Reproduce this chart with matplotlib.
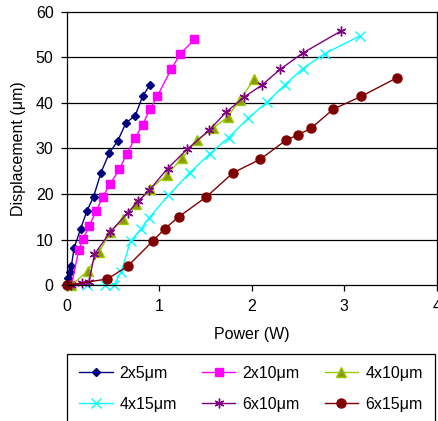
import matplotlib
matplotlib.use("Agg")
import matplotlib.pyplot as plt

plt.rcParams['font.family'] = ['Liberation Sans', 'DejaVu Sans']
plt.rcParams['font.size'] = 11.5

# power (W) vs displacement (um) for each actuator geometry
p_2x5 = [0, 0.01, 0.03, 0.05, 0.08, 0.15, 0.22, 0.29, 0.37, 0.46, 0.55, 0.64, 0.74, 0.82, 0.90]
d_2x5 = [0, 1.5, 2.9, 4.2, 8.2, 12.4, 16.4, 19.4, 24.7, 29.0, 31.6, 35.6, 37.2, 41.4, 44.0]

p_2x10 = [0.05, 0.13, 0.18, 0.24, 0.32, 0.39, 0.47, 0.57, 0.65, 0.74, 0.82, 0.90, 0.98, 1.13, 1.23, 1.38]
d_2x10 = [0, 7.7, 10.2, 12.9, 16.4, 19.4, 22.3, 25.4, 28.9, 32.3, 35.2, 38.6, 41.5, 47.4, 50.8, 53.9]

p_4x10 = [0.05, 0.23, 0.35, 0.47, 0.61, 0.75, 0.90, 1.08, 1.25, 1.41, 1.58, 1.74, 1.87, 2.03]
d_4x10 = [0, 3.2, 7.3, 11.6, 14.6, 17.9, 21.1, 24.1, 28.0, 31.8, 34.4, 36.9, 40.6, 45.3]

p_4x15 = [0.22, 0.41, 0.51, 0.59, 0.69, 0.80, 0.89, 1.10, 1.33, 1.55, 1.75, 1.96, 2.16, 2.36, 2.55, 2.79, 3.17]
d_4x15 = [0, 0, 0, 3.0, 9.7, 12.3, 14.8, 19.7, 24.7, 28.9, 32.4, 36.6, 40.1, 44.0, 47.5, 50.8, 54.7]

p_6x10 = [0.05, 0.16, 0.24, 0.30, 0.47, 0.66, 0.77, 0.89, 1.09, 1.30, 1.54, 1.72, 1.92, 2.11, 2.31, 2.55, 2.96]
d_6x10 = [0, 0.4, 0.7, 6.8, 11.7, 15.9, 18.4, 20.8, 25.6, 29.8, 34.0, 37.9, 41.3, 43.9, 47.4, 50.9, 55.7]

p_6x15 = [0, 0.44, 0.66, 0.93, 1.06, 1.21, 1.51, 1.80, 2.09, 2.37, 2.50, 2.64, 2.88, 3.18, 3.57]
d_6x15 = [0, 1.4, 4.2, 9.7, 12.4, 15.0, 19.4, 24.7, 27.6, 31.8, 33.0, 34.4, 38.6, 41.4, 45.5]

fig = plt.figure(figsize=(4.39, 4.21), dpi=100)
ax = fig.add_axes([0.152, 0.3223, 0.8428, 0.65])

ax.plot(p_2x5, d_2x5, color='#000080', lw=1, marker='D', ms=4.5, label='2x5\u03bcm', clip_on=False)
ax.plot(p_2x10, d_2x10, color='#FF00FF', lw=1, marker='s', ms=6, label='2x10\u03bcm', clip_on=False)
ax.plot(p_4x10, d_4x10, color='#99CC00', lw=1, marker='^', ms=6.5, mfc='#8A9A00', mec='#99CC00',
        label='4x10\u03bcm', clip_on=False)
ax.plot(p_4x15, d_4x15, color='#00FFFF', lw=1, marker='x', ms=6.5, mew=1, label='4x15\u03bcm', clip_on=False)
ax.plot(p_6x10, d_6x10, color='#800080', lw=1, marker=(6, 2, 0), ms=7, mew=1, label='6x10\u03bcm', clip_on=False)
ax.plot(p_6x15, d_6x15, color='#800000', lw=1, marker='o', ms=6.5, label='6x15\u03bcm', clip_on=False)

ax.set_xlim(0, 4)
ax.set_ylim(0, 60)
ax.set_xticks([0, 1, 2, 3, 4])
ax.set_yticks(range(0, 61, 10))
for y in range(10, 60, 10):
    ax.axhline(y, color='black', lw=0.9, zorder=0)

for s in ax.spines.values():
    s.set_linewidth(0.9)
ax.tick_params(direction='out', length=4.5, width=0.9, pad=5, labelsize=11.5)

ax.set_xlabel('Power (W)', labelpad=10)
ax.set_ylabel('Displacement (\u03bcm)', labelpad=7)

# legend entries are laid out row by row, three per row
handles, labels = ax.get_legend_handles_labels()
order = [0, 3, 1, 4, 2, 5]
leg = fig.legend([handles[i] for i in order], [labels[i] for i in order],
                 loc='upper left', bbox_to_anchor=(67 / 439, 1 - 354 / 421),
                 ncol=3, frameon=True, fancybox=False, edgecolor='black', framealpha=1,
                 handlelength=2.1, handletextpad=0.45, columnspacing=1.55, labelspacing=1.0,
                 borderpad=0.75, borderaxespad=0, fontsize=11.5)
leg.get_frame().set_linewidth(0.9)

fig.savefig('out.png', dpi=100)
